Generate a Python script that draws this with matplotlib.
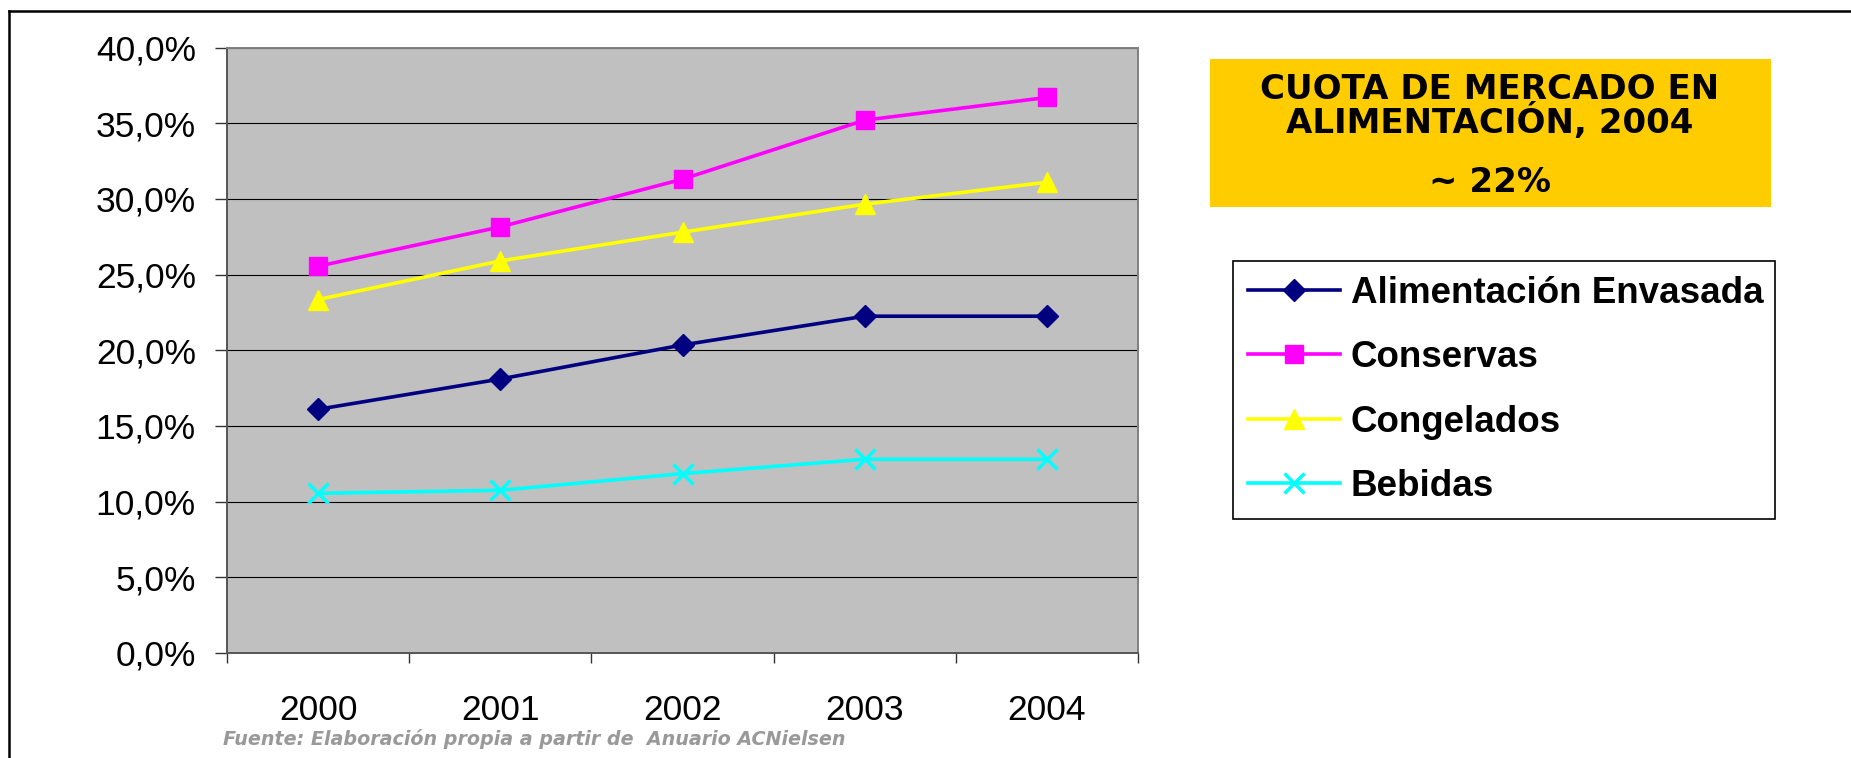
"""Cuota de mercado en alimentación 2000-2004 (recreation of an Excel line chart)."""

import matplotlib

matplotlib.use("Agg")
import matplotlib.pyplot as plt
from matplotlib.lines import Line2D
from matplotlib.patches import Rectangle
from matplotlib.ticker import FixedLocator, FuncFormatter

YEARS = ["2000", "2001", "2002", "2003", "2004"]
ALIMENTACION_ENVASADA = [16.1, 18.1, 20.35, 22.25, 22.25]
CONSERVAS = [25.55, 28.15, 31.3, 35.2, 36.7]
CONGELADOS = [23.35, 25.9, 27.8, 29.65, 31.1]
BEBIDAS = [10.55, 10.75, 11.85, 12.8, 12.8]

SERIES_NAMES = ["Alimentación Envasada", "Conservas", "Congelados", "Bebidas"]
Y_TICKS = [0, 5, 10, 15, 20, 25, 30, 35, 40]

BOX_TITLE = "CUOTA DE MERCADO EN\nALIMENTACIÓN, 2004"
BOX_VALUE = "~ 22%"
SOURCE_NOTE = "Fuente: Elaboración propia a partir de  Anuario ACNielsen"

WIDTH_PX, HEIGHT_PX, DPI = 1851, 758, 100


def fx(px):
    return px / WIDTH_PX


def fy(py):
    return 1 - py / HEIGHT_PX


figure = plt.figure(figsize=(WIDTH_PX / DPI, HEIGHT_PX / DPI), dpi=DPI)
figure.patch.set_facecolor("white")

axis = figure.add_axes([fx(227), fy(653), fx(1138) - fx(227), fy(47.5) - fy(653)])
axis.set_facecolor("#c0c0c0")

positions = list(range(len(YEARS)))
styles = [
    (ALIMENTACION_ENVASADA, "#000080", "D", 11.0, 1.0),
    (CONSERVAS, "#ff00ff", "s", 13.5, 1.0),
    (CONGELADOS, "#ffff00", "^", 15.0, 1.0),
    (BEBIDAS, "#00ffff", "x", 14.0, 2.5),
]
for (values, colour, marker, size, edge), name in zip(styles, SERIES_NAMES):
    axis.plot(
        positions,
        values,
        color=colour,
        linewidth=2.6,
        marker=marker,
        markersize=size,
        markerfacecolor=colour,
        markeredgecolor=colour,
        markeredgewidth=edge,
        label=name,
        zorder=3,
        clip_on=False,
    )

axis.set_xlim(-0.5, len(YEARS) - 0.5)
axis.set_ylim(0, 40)
axis.set_xticks(positions)
axis.set_xticklabels(YEARS)
axis.xaxis.set_minor_locator(FixedLocator([p - 0.5 for p in range(len(YEARS) + 1)]))
axis.tick_params(axis="x", which="major", length=0, pad=29.5, labelsize=25.5)
axis.tick_params(axis="x", which="minor", length=7.5, width=1.0, color="#333333")
axis.set_yticks(Y_TICKS)
axis.yaxis.set_major_formatter(FuncFormatter(lambda v, _: f"{v:.1f}%".replace(".", ",")))
axis.tick_params(axis="y", length=8.5, width=1.0, pad=14, labelsize=25.5, color="#333333")
for label in axis.get_xticklabels() + axis.get_yticklabels():
    label.set_fontfamily("Liberation Sans")

axis.grid(True, axis="y", color="black", linewidth=0.8)
axis.set_axisbelow(True)
for side, spine in axis.spines.items():
    spine.set_color("#808080" if side in ("top", "right") else "#555555")
    spine.set_linewidth(1.4)

# yellow call-out box
figure.patches.append(
    Rectangle((fx(1210), fy(207)), fx(1771) - fx(1210), fy(59) - fy(207),
              transform=figure.transFigure, facecolor="#ffcc00", edgecolor="none")
)
figure.text(fx(1490), fy(106.5), BOX_TITLE, ha="center", va="center", fontsize=24.5,
            fontweight="bold", family="DejaVu Sans", linespacing=0.92)
figure.text(fx(1490), fy(182), BOX_VALUE, ha="center", va="center", fontsize=24.5,
            fontweight="bold", family="DejaVu Sans")

legend = axis.legend(
    loc="upper left",
    bbox_to_anchor=(fx(1233), fy(261) - 0.01, fx(1775) - fx(1233), 0.01),
    bbox_transform=figure.transFigure,
    mode="expand",
    borderaxespad=0,
    borderpad=0.4,
    labelspacing=0.8,
    handlelength=2.5,
    handletextpad=0.3,
    fancybox=False,
    framealpha=1,
    edgecolor="black",
    prop={"family": "Liberation Sans", "weight": "bold", "size": 26.5},
)
legend.get_frame().set_linewidth(1.2)

figure.text(fx(223), fy(739), SOURCE_NOTE, ha="left", va="center", fontsize=13.8,
            fontweight="bold", fontstyle="italic", color="#999999", family="DejaVu Sans")

# page frame (top and left edges only)
figure.lines.append(Line2D([fx(9), 1], [fy(11), fy(11)], transform=figure.transFigure,
                           color="black", linewidth=1.8))
figure.lines.append(Line2D([fx(9), fx(9)], [fy(11), 0], transform=figure.transFigure,
                           color="black", linewidth=1.8))

figure.savefig("out.png", dpi=DPI)
plt.close(figure)
